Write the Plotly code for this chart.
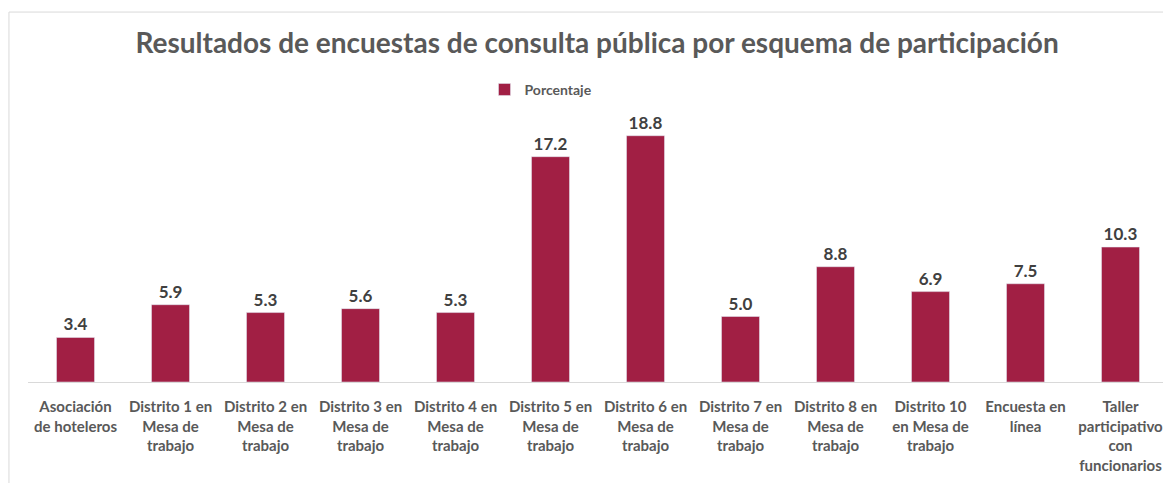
import plotly.graph_objects as go

categories = [
    "Asociación<br>de hoteleros",
    "Distrito 1 en<br>Mesa de<br>trabajo",
    "Distrito 2 en<br>Mesa de<br>trabajo",
    "Distrito 3 en<br>Mesa de<br>trabajo",
    "Distrito 4 en<br>Mesa de<br>trabajo",
    "Distrito 5 en<br>Mesa de<br>trabajo",
    "Distrito 6 en<br>Mesa de<br>trabajo",
    "Distrito 7 en<br>Mesa de<br>trabajo",
    "Distrito 8 en<br>Mesa de<br>trabajo",
    "Distrito 10<br>en Mesa de<br>trabajo",
    "Encuesta en<br>línea",
    "Taller<br>participativo<br>con<br>funcionarios",
]
porcentaje = [3.4, 5.9, 5.3, 5.6, 5.3, 17.2, 18.8, 5.0, 8.8, 6.9, 7.5, 10.3]

font_family = "Lato, 'Open Sans', sans-serif"

fig = go.Figure()
fig.add_trace(go.Bar(
    x=categories,
    y=porcentaje,
    name="Porcentaje",
    marker=dict(color="#A11F44"),
    text=porcentaje,
    texttemplate="%{y:.1f}",
    textposition="outside",
    textfont=dict(size=17, color="#404040", family=font_family, weight="bold"),
    cliponaxis=False,
    width=0.4,
))

# chart border (Excel-like frame)
fig.add_shape(type="rect", xref="paper", yref="paper",
              x0=-0.0167, x1=1.02, y0=-0.5, y1=1.412,
              line=dict(color="#D9D9D9", width=1), layer="below")

# page body adds an 8px offset, so the figure is a bit smaller than the window
fig.update_layout(
    width=1163, height=475,
    paper_bgcolor="white", plot_bgcolor="white",
    margin=dict(l=20, r=3, t=112, b=101, autoexpand=False),
    title=dict(text="<b>Resultados de encuestas de consulta pública por esquema de participación</b>",
               x=0.5065, xanchor="center", y=0.926, yanchor="middle",
               font=dict(size=28, color="#595959", family=font_family)),
    showlegend=True,
    legend=dict(orientation="h", x=0.45, xanchor="center", y=1.115, yanchor="middle",
                font=dict(size=14, color="#595959", family=font_family, weight="bold")),
    xaxis=dict(showline=True, linecolor="#D9D9D9", linewidth=1, ticks="",
               automargin=False, ticklabelstandoff=11,
               tickfont=dict(size=15, color="#595959", family=font_family, weight="bold")),
    yaxis=dict(range=[0, 20], visible=False, showgrid=False, automargin=False),
    bargap=0.6,
)

fig.write_html("out.html")
